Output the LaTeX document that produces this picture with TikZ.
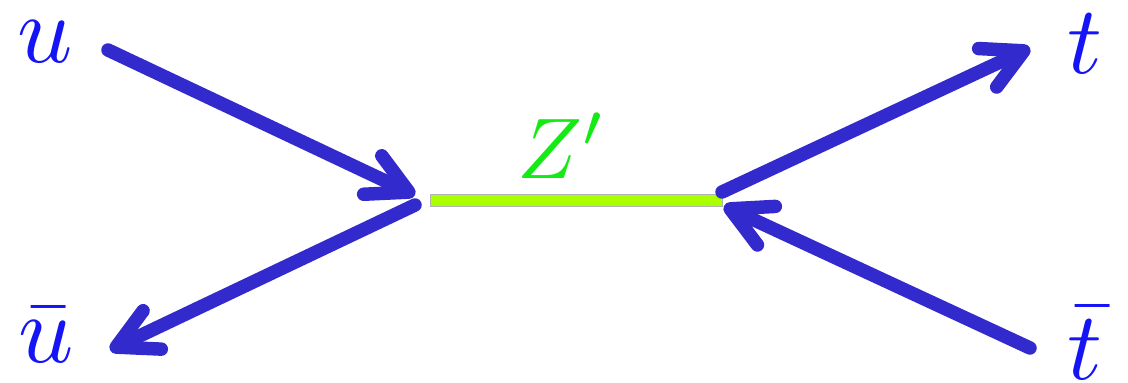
\documentclass[tikz,border=0pt]{standalone}
\usepackage{amsmath}
\usepackage{graphicx}
\usepackage{xcolor}
\usepackage{tikz}
\usetikzlibrary{arrows.meta,calc,positioning}
\definecolor{fermion}{RGB}{50,42,204}
\definecolor{labelblue}{RGB}{20,20,245}
\definecolor{zprime}{RGB}{170,255,0}
\definecolor{zlabel}{RGB}{20,235,20}
\newcommand{\biglbl}[2][5.5]{\scalebox{#1}{$#2$}}

\begin{document}
\begin{tikzpicture}[x=0.02cm,y=-0.02cm,>={Straight Barb[length=8mm,width=8.5mm,round]}]
 \tikzset{lbl/.style={text=labelblue,anchor=base,inner sep=0pt},
          fline/.style={->,draw=fermion,line width=2.7mm,line cap=round,line join=round},
          prop/.style={draw=gray!60,fill=zprime,line width=0.3pt}}
 \useasboundingbox (0,0) rectangle (1128,382);
 % labels
 \node[lbl] (u) at (45,62) {\biglbl{u}};
 \node[lbl] (ubar) at (46,362) {\biglbl{\bar{u}}};
 \node[lbl] (t) at (1085,73) {\biglbl{t}};
 \node[lbl] (tbar) at (1085,379) {\biglbl{\bar{t}}};
 \node[lbl,text=zlabel] (zp) at (562,178) {\biglbl[4.9]{Z'}};
 % line ends
 \coordinate (uin) at (108,50);
 \coordinate (uvx) at (415,195);
 \coordinate (ubvx) at (415,205);
 \coordinate (ubout) at (110,350);
 \coordinate (tvx) at (722,192);
 \coordinate (tout) at (1030,48);
 \coordinate (tbin) at (1030,348);
 \coordinate (tbvx) at (724,206);
 % propagator
 \draw[prop] (430,194) rectangle (722,206);
 % fermions
 \draw[fline] (uin) -- (uvx);
 \draw[fline] (ubvx) -- (ubout);
 \draw[fline] (tvx) -- (tout);
 \draw[fline] (tbin) -- (tbvx);
\end{tikzpicture}
\end{document}
